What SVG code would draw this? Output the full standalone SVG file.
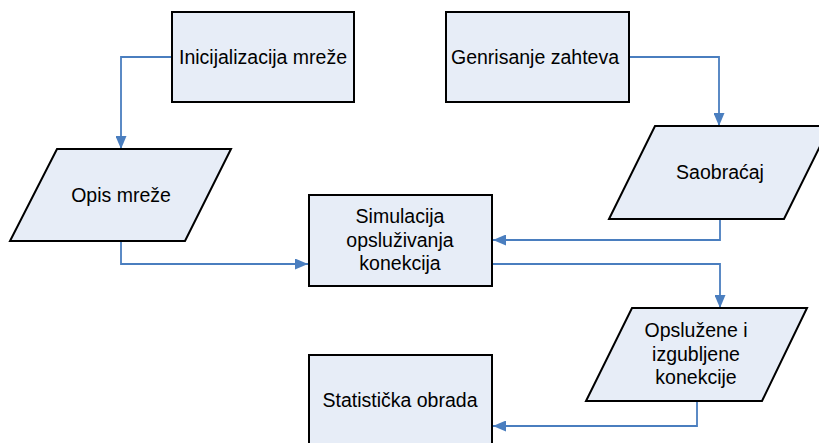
<svg xmlns="http://www.w3.org/2000/svg" width="819" height="443" viewBox="0 0 819 443">
<style>
.n{fill:#e7edf7;stroke:#000;stroke-width:2}
.t{font-family:"Liberation Sans",Arial,sans-serif;font-size:19.5px;fill:#000;text-anchor:middle}
.c{fill:none;stroke:#4a7ebf;stroke-width:1.8}
</style>
<defs>
<marker id="a" markerWidth="13" markerHeight="11" refX="13" refY="5.5" orient="auto" markerUnits="userSpaceOnUse">
<path d="M0,0 L13,5.5 L0,11 Z" fill="#4a7ebf"/>
</marker>
</defs>
<rect width="819" height="443" fill="#fff"/>
<g id="connectors">
<path class="c" d="M172,57 H121 V149" marker-end="url(#a)"/>
<path class="c" d="M630,57 H719 V126" marker-end="url(#a)"/>
<path class="c" d="M121,241 V264 H308" marker-end="url(#a)"/>
<path class="c" d="M720,219 V240 H493" marker-end="url(#a)"/>
<path class="c" d="M492,264 H720 V308" marker-end="url(#a)"/>
<path class="c" d="M697,401 V426 H493" marker-end="url(#a)"/>
</g>
<g id="inicijalizacija">
<rect class="n" x="172" y="12" width="182" height="90"/>
<text class="t" x="263" y="64">Inicijalizacija mreže</text>
</g>
<g id="genrisanje">
<rect class="n" x="446" y="12" width="183" height="90"/>
<text class="t" x="535" y="64">Genrisanje zahteva</text>
</g>
<g id="opis">
<polygon class="n" points="57,149 231,149 185,241 10,241"/>
<text class="t" x="121" y="202">Opis mreže</text>
</g>
<g id="saobracaj">
<polygon class="n" points="655,126 830,126 784,219 609,219"/>
<text class="t" x="720" y="179">Saobraćaj</text>
</g>
<g id="simulacija">
<rect class="n" x="309" y="195" width="183" height="91"/>
<text class="t" x="400" y="223">Simulacija</text>
<text class="t" x="400" y="247">opsluživanja</text>
<text class="t" x="400" y="270">konekcija</text>
</g>
<g id="opsluzene">
<polygon class="n" points="632,308 807,308 762,401 586,401"/>
<text class="t" x="696" y="337">Opslužene i</text>
<text class="t" x="696" y="361">izgubljene</text>
<text class="t" x="696" y="384">konekcije</text>
</g>
<g id="statisticka">
<rect class="n" x="309" y="355" width="183" height="100"/>
<text class="t" x="400" y="407">Statistička obrada</text>
</g>
</svg>
